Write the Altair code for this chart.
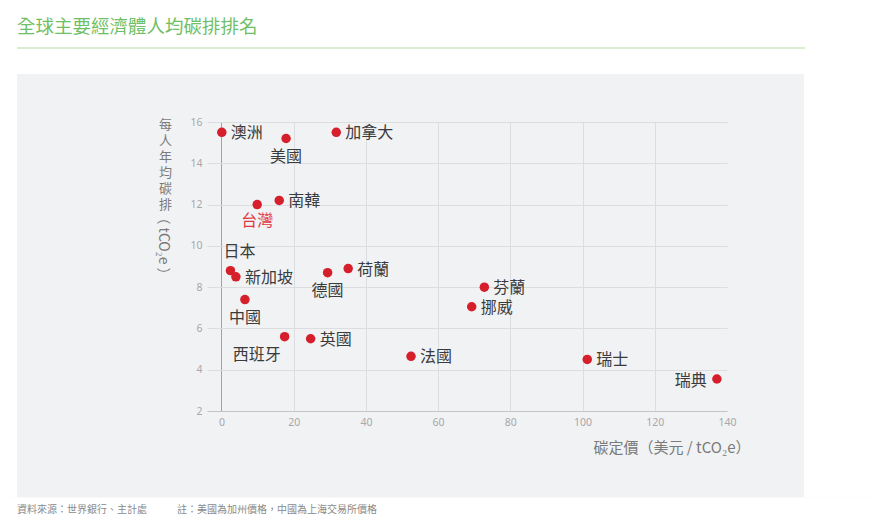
import altair as alt
import pandas as pd

countries = ["澳洲", "美國", "加拿大", "南韓", "台灣", "日本", "新加坡", "中國", "德國",
             "荷蘭", "西班牙", "英國", "法國", "芬蘭", "挪威", "瑞士", "瑞典"]
carbon_price = [0.1, 17.9, 31.8, 16.0, 9.9, 2.5, 4.0, 6.5, 29.4,
                35.1, 17.5, 24.7, 52.5, 72.8, 69.3, 101.3, 137.2]
emission_per_capita = [15.5, 15.2, 15.5, 12.2, 12.0, 8.8, 8.5, 7.4, 8.7,
                       8.9, 5.6, 5.5, 4.65, 8.0, 7.05, 4.5, 3.55]

x_ticks = [0, 20, 40, 60, 80, 100, 120, 140]
y_ticks = [2, 4, 6, 8, 10, 12, 14, 16]

title_text = "全球主要經濟體人均碳排排名"
x_title = "碳定價（美元 / tCO₂e）"
y_title_chars = ["每", "人", "年", "均", "碳", "排"]
y_title_unit = "（ tCO₂e ）"
source_note = "資料來源：世界銀行、主計處"
footnote = "註：美國為加州價格，中國為上海交易所價格"

# label placement groups
right_labels = ["澳洲", "加拿大", "南韓", "新加坡", "荷蘭", "英國", "法國", "芬蘭", "挪威", "瑞士"]
below_labels = ["美國", "德國", "中國"]
highlight_labels = ["台灣"]
below_left_labels = ["西班牙"]
above_labels = ["日本"]
left_labels = ["瑞典"]

df = pd.DataFrame({"country": countries, "price": carbon_price, "emission": emission_per_capita})

FONT = "Noto Sans CJK TC"
W, H = 520, 289
PAD = {"left": 199, "top": 114, "right": 150, "bottom": 107}

x_enc = alt.X("price:Q", scale=alt.Scale(domain=[-4, 140], nice=False, zero=False),
              axis=alt.Axis(values=x_ticks, title=x_title, ticks=False, domain=True,
                            domainColor="#c4c4c4", domainWidth=1.2, labelFlush=False,
                            gridColor={"condition": {"test": "datum.value === 0", "value": "#a3a3a3"},
                                       "value": "#dcdde0"},
                            gridOpacity={"condition": {"test": "datum.value === 140", "value": 0},
                                         "value": 1},
                            labelColor="#a8a8a8", labelFontSize=10.5, labelFont="Noto Sans",
                            labelPadding=6,
                            titleFont=FONT, titleFontSize=15, titleColor="#7a7a7a",
                            titleFontWeight="normal",
                            titleAnchor="end", titleAlign="right", titleBaseline="middle",
                            titleX=543, titleY=36))
y_enc = alt.Y("emission:Q", scale=alt.Scale(domain=[2, 16], nice=False, zero=False),
              axis=alt.Axis(values=y_ticks, title=y_title_chars, ticks=False, domain=False,
                            gridColor="#dcdde0", labelFlush=False,
                            labelColor="#a8a8a8", labelFontSize=10.5, labelFont="Noto Sans",
                            labelPadding=5,
                            titleFont=FONT, titleFontSize=13, titleColor="#7a7a7a",
                            titleFontWeight="normal", titleAngle=0,
                            titleAlign="center", titleBaseline="top",
                            titleLineHeight=16, titleX=-42, titleY=-4))

one = pd.DataFrame({"k": [0]})

def white_rect(x, x2, y, y2):
    return alt.Chart(one).mark_rect(color="#ffffff").encode(
        x=alt.value(x), x2=alt.value(x2), y=alt.value(y), y2=alt.value(y2))

canvas_r = W + PAD["right"]
canvas_b = H + PAD["bottom"]
panel_l, panel_r, panel_t, panel_b = -190, 597, -48, 375.5

bg_layers = [
    white_rect(-PAD["left"], canvas_r, -PAD["top"], panel_t),
    white_rect(-PAD["left"], canvas_r, panel_b, canvas_b),
    white_rect(-PAD["left"], panel_l, panel_t, panel_b),
    white_rect(panel_r, canvas_r, panel_t, panel_b),
]

base = alt.Chart(df).encode(x=x_enc, y=y_enc)

points = base.mark_circle(size=90, color="#d51f2b", opacity=1)

def labels(names, color="#3b3b3b", **kw):
    return base.transform_filter(alt.FieldOneOfPredicate(field="country", oneOf=names)).mark_text(
        font=FONT, fontSize=16, color=color, baseline="middle", **kw).encode(text="country:N")

label_layers = [
    labels(right_labels, align="left", dx=9, dy=1),
    labels(below_labels, align="center", dx=0, dy=18),
    labels(highlight_labels, color="#e0363f", align="center", dx=0, dy=16),
    labels(below_left_labels, align="center", dx=-28, dy=18),
    labels(above_labels, align="center", dx=9, dy=-19),
    labels(left_labels, align="right", dx=-10, dy=2),
]

def text_at(t, x, y, size, color, **kw):
    return alt.Chart(pd.DataFrame({"t": [t]})).mark_text(
        font=FONT, fontSize=size, color=color, baseline="middle", **kw).encode(
        x=alt.value(x), y=alt.value(y), text="t:N")

y_unit = text_at(y_title_unit, -44, 124, 14, "#7a7a7a", align="center", angle=90)
title = text_at(title_text, -190, -95, 18.5, "#6fbf66", align="left")
green_rule = alt.Chart(one).mark_rule(color="#cde7c3", strokeWidth=1.5).encode(
    x=alt.value(-190), x2=alt.value(598), y=alt.value(-74))
note1 = text_at(source_note, -190, 388, 10, "#8a8a8a", align="left")
note2 = text_at(footnote, -30, 388, 10, "#8a8a8a", align="left")

chart = alt.layer(
    *bg_layers, points, *label_layers, y_unit, title, green_rule, note1, note2
).properties(
    width=W, height=H, padding=PAD,
    autosize=alt.AutoSizeParams(type="none"),
    background="#f1f2f4",
).configure_view(stroke=None, fill=None)

chart.save("out.html", embed_options={"renderer": "svg", "actions": False})
